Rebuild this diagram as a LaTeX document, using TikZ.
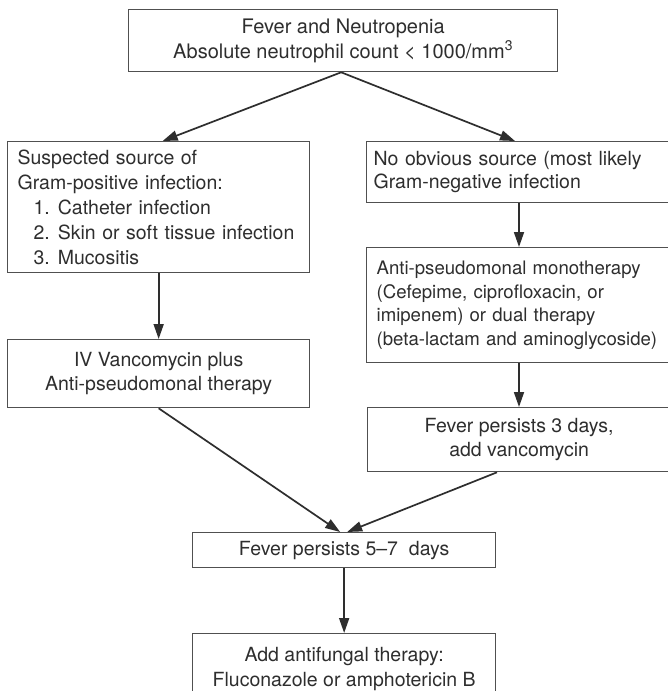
\documentclass[tikz,border=0pt]{standalone}
\usepackage{fontspec}
\setmainfont{TeX Gyre Heros}
\usetikzlibrary{arrows.meta}
\definecolor{ink}{HTML}{2E2E2E}
\definecolor{frame}{HTML}{505050}
\begin{document}
\begin{tikzpicture}[x=1pt,y=-1pt,
  flowbox/.style={draw=frame, line width=1.3pt, anchor=north west, text=ink,
    font=\fontsize{19.5}{23.5}\selectfont, inner ysep=0pt},
  flowarrow/.style={draw=ink, line width=1.7pt,
    -{Triangle[length=15pt,width=10pt]}}]
  \useasboundingbox[fill=white] (0,0) rectangle (668,691);

  % boxes
  \node[flowbox, minimum width=429pt, minimum height=62pt, align=center,
    font=\fontsize{20}{25}\selectfont]
    (start) at (128,9) {Fever and Neutropenia\\Absolute neutrophil count < 1000/mm\textsuperscript{3}};

  \node[flowbox, inner xsep=10pt, text width=282pt, minimum height=131pt, align=left,
    font=\fontsize{19.5}{25}\selectfont]
    (gpos) at (7,141) {Suspected source of\\Gram-positive infection:\\
      \hspace*{16pt}1.\hspace{8pt}Catheter infection\\
      \hspace*{16pt}2.\hspace{8pt}Skin or soft tissue infection\\
      \hspace*{16pt}3.\hspace{8pt}Mucositis};

  \node[flowbox, minimum width=302pt, minimum height=68pt, align=center]
    (vanc) at (7,339) {IV Vancomycin plus\\Anti-pseudomonal therapy};

  \node[flowbox, inner xsep=7pt, text width=300pt, minimum height=61pt, align=left]
    (gneg) at (366,141) {No obvious source (most likely\\Gram-negative infection};

  \node[flowbox, inner xsep=10pt, text width=300pt, minimum height=115pt, align=left,
    font=\fontsize{18.6}{23.5}\selectfont]
    (mono) at (366,247) {Anti-pseudomonal monotherapy\\(Cefepime, ciprofloxacin, or\\imipenem) or dual therapy\\(beta-lactam and aminoglycoside)};

  \node[flowbox, minimum width=303pt, minimum height=64pt, align=center]
    (three) at (367,407) {Fever persists 3 days,\\add vancomycin};

  \node[flowbox, minimum width=303pt, minimum height=35pt, align=center]
    (five) at (192,532) {Fever persists 5--7~ days};

  \node[flowbox, minimum width=303pt, minimum height=70pt, align=center,
    font=\fontsize{19.5}{25}\selectfont]
    (fungal) at (192,633) {Add antifungal therapy:\\Fluconazole or amphotericin B};

  % connectors
  \draw[flowarrow] ([xshift=-2pt]start.south) -- ([xshift=4pt]gpos.north);
  \draw[flowarrow] ([xshift=-2pt]start.south) -- (gneg.north -| 515,0);
  \draw[flowarrow] (gpos.south) -- (vanc.north);
  \draw[flowarrow] (gneg.south -| 519,0) -- (mono.north -| 519,0);
  \draw[flowarrow] (mono.south -| 519,0) -- (three.north -| 519,0);
  \draw[flowarrow] (vanc.south) -- ([xshift=-4pt]five.north);
  \draw[flowarrow] (three.south -| 497,0) -- ([xshift=3pt]five.north);
  \draw[flowarrow] (five.south) -- (fungal.north);
\end{tikzpicture}
\end{document}
